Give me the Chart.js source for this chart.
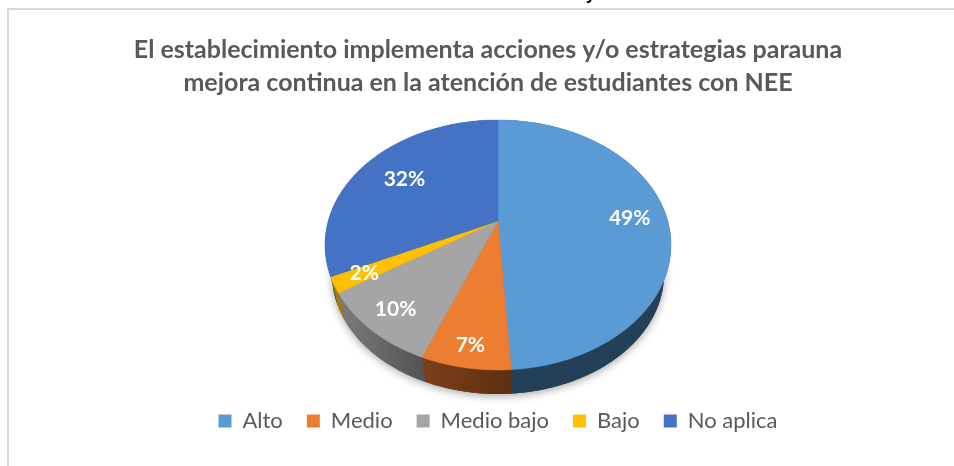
<!DOCTYPE html>
<html>
<head>
<meta charset="utf-8">
<script src="https://cdn.jsdelivr.net/npm/chart.js@4"></script>
<style>
  html, body { margin: 0; background: #fff; overflow: hidden; }
  #wrap { position: relative; width: 954px; height: 466px; }
  #frame { position: absolute; left: 7px; top: 8px; width: 947px; height: 458px;
           border-left: 2px solid #d9d9d9; border-top: 2px solid #d9d9d9; box-sizing: border-box; }
  #cut { position: absolute; left: 0; top: 0; width: 954px; height: 4px; overflow: hidden; }
  #cut span { position: absolute; left: 586px; top: -14px; font: bold 16px "Liberation Sans"; color: #000; }
  canvas { position: absolute; left: 0; top: 0; }
</style>
</head>
<body>
<div id="wrap">
  <div id="frame"></div>
  <div id="cut"><span>y</span></div>
  <canvas id="pieChart" width="954" height="466"></canvas>
</div>
<script>
  const titleLines = [
    "El establecimiento implementa acciones y/o estrategias parauna",
    "mejora continua en la atención de estudiantes con NEE",
  ];
  const categories = ["Alto", "Medio", "Medio bajo", "Bajo", "No aplica"];
  const percentages = [49, 7, 10, 2, 32];

  const topColors = ["#5B9BD5", "#ED7D31", "#A5A5A5", "#FFC000", "#4472C4"];
  const wallLeft = ["#243F58", "#7C4019", "#7C7C7C", "#A67D00", "#2A4578"];
  const wallRight = ["#243F58", "#5E2F10", "#545454", "#A67D00", "#2A4578"];
  // how far out along the slice each label sits
  const labelReach = [0.78, 0.87, 0.83, 0.83, 0.7];

  // tilted pie: hub sits above the ellipse centre
  const TILT = 0.192, WIDE = 1.358, TALL = 0.963;
  const WALL_DROP = 30, WALL_SHRINK = 0.96;

  function project(el, angle, reach) {
    const u = Math.cos(angle) * reach;
    const v = Math.sin(angle) * reach;
    const d = 1 - TILT * v;
    return {
      x: el.x + WIDE * el.outerRadius * u / d,
      y: el.y - TILT * el.outerRadius + TALL * el.outerRadius * v / d,
    };
  }

  function rim(el, start, end) {
    const pts = [];
    const steps = Math.max(4, Math.ceil((end - start) / 0.02));
    for (let i = 0; i <= steps; i++) {
      pts.push(project(el, start + (end - start) * i / steps, 1));
    }
    return pts;
  }

  function lowered(el, p) {
    const hubY = el.y - TILT * el.outerRadius;
    return {
      x: el.x + (p.x - el.x) * WALL_SHRINK,
      y: hubY + WALL_DROP + (p.y - hubY) * WALL_SHRINK,
    };
  }

  function trace(ctx, pts) {
    pts.forEach((p, i) => i ? ctx.lineTo(p.x, p.y) : ctx.moveTo(p.x, p.y));
  }

  const pie3d = {
    id: "pie3d",
    afterLayout(chart) {
      // the title sits a little left of the pie
      chart.titleBlock.left -= 20;
    },
    beforeDatasetDraw(chart, args) {
      const ctx = chart.ctx;
      const arcs = args.meta.data;

      // soft shadow under the base
      ctx.save();
      ctx.shadowColor = "rgba(0,0,0,0.35)";
      ctx.shadowBlur = 8;
      ctx.shadowOffsetY = 2;
      ctx.fillStyle = "#555";
      ctx.beginPath();
      const first = arcs[0];
      trace(ctx, rim(first, 0, Math.PI * 2).map(p => lowered(first, p)));
      ctx.closePath();
      ctx.fill();
      ctx.restore();

      // side walls, then the top faces over them
      arcs.forEach((arc, i) => {
        const top = rim(arc, arc.startAngle, arc.endAngle);
        const bottom = top.map(p => lowered(arc, p)).reverse();
        const xs = top.map(p => p.x);
        const grad = ctx.createLinearGradient(Math.min(...xs), 0, Math.max(...xs), 0);
        grad.addColorStop(0, wallLeft[i]);
        grad.addColorStop(1, wallRight[i]);
        ctx.fillStyle = grad;
        ctx.beginPath();
        trace(ctx, top.concat(bottom));
        ctx.closePath();
        ctx.fill();
      });

      arcs.forEach((arc, i) => {
        const hub = { x: arc.x, y: arc.y - TILT * arc.outerRadius };
        ctx.fillStyle = arc.options.backgroundColor;
        ctx.strokeStyle = arc.options.backgroundColor;
        ctx.lineWidth = 0.5;
        ctx.beginPath();
        trace(ctx, [hub].concat(rim(arc, arc.startAngle, arc.endAngle)));
        ctx.closePath();
        ctx.fill();
        ctx.stroke();
      });

      ctx.fillStyle = "#fff";
      ctx.font = 'bold 21px Lato';
      ctx.textAlign = "center";
      ctx.textBaseline = "middle";
      arcs.forEach((arc, i) => {
        const mid = (arc.startAngle + arc.endAngle) / 2;
        const p = project(arc, mid, labelReach[i]);
        ctx.fillText(percentages[i] + "%", p.x, p.y);
      });
      return false;
    },
  };

  new Chart(document.getElementById("pieChart"), {
    type: "pie",
    data: {
      labels: categories,
      datasets: [{ data: percentages, backgroundColor: topColors, borderWidth: 0, radius: 125 }],
    },
    plugins: [pie3d],
    options: {
      responsive: false,
      animation: false,
      layout: { padding: { left: 42, right: 0, top: 0, bottom: 24 } },
      plugins: {
        title: {
          display: true,
          text: titleLines,
          color: "#595959",
          font: { family: "Lato", size: 25, weight: "bold", lineHeight: 1.32 },
          padding: { top: 33, bottom: 5 },
        },
        legend: {
          position: "bottom",
          labels: {
            color: "#595959",
            font: { family: "Lato", size: 22 },
            boxWidth: 13,
            boxHeight: 13,
            padding: 24,
          },
        },
        tooltip: { enabled: false },
      },
    },
  });
</script>
</body>
</html>
